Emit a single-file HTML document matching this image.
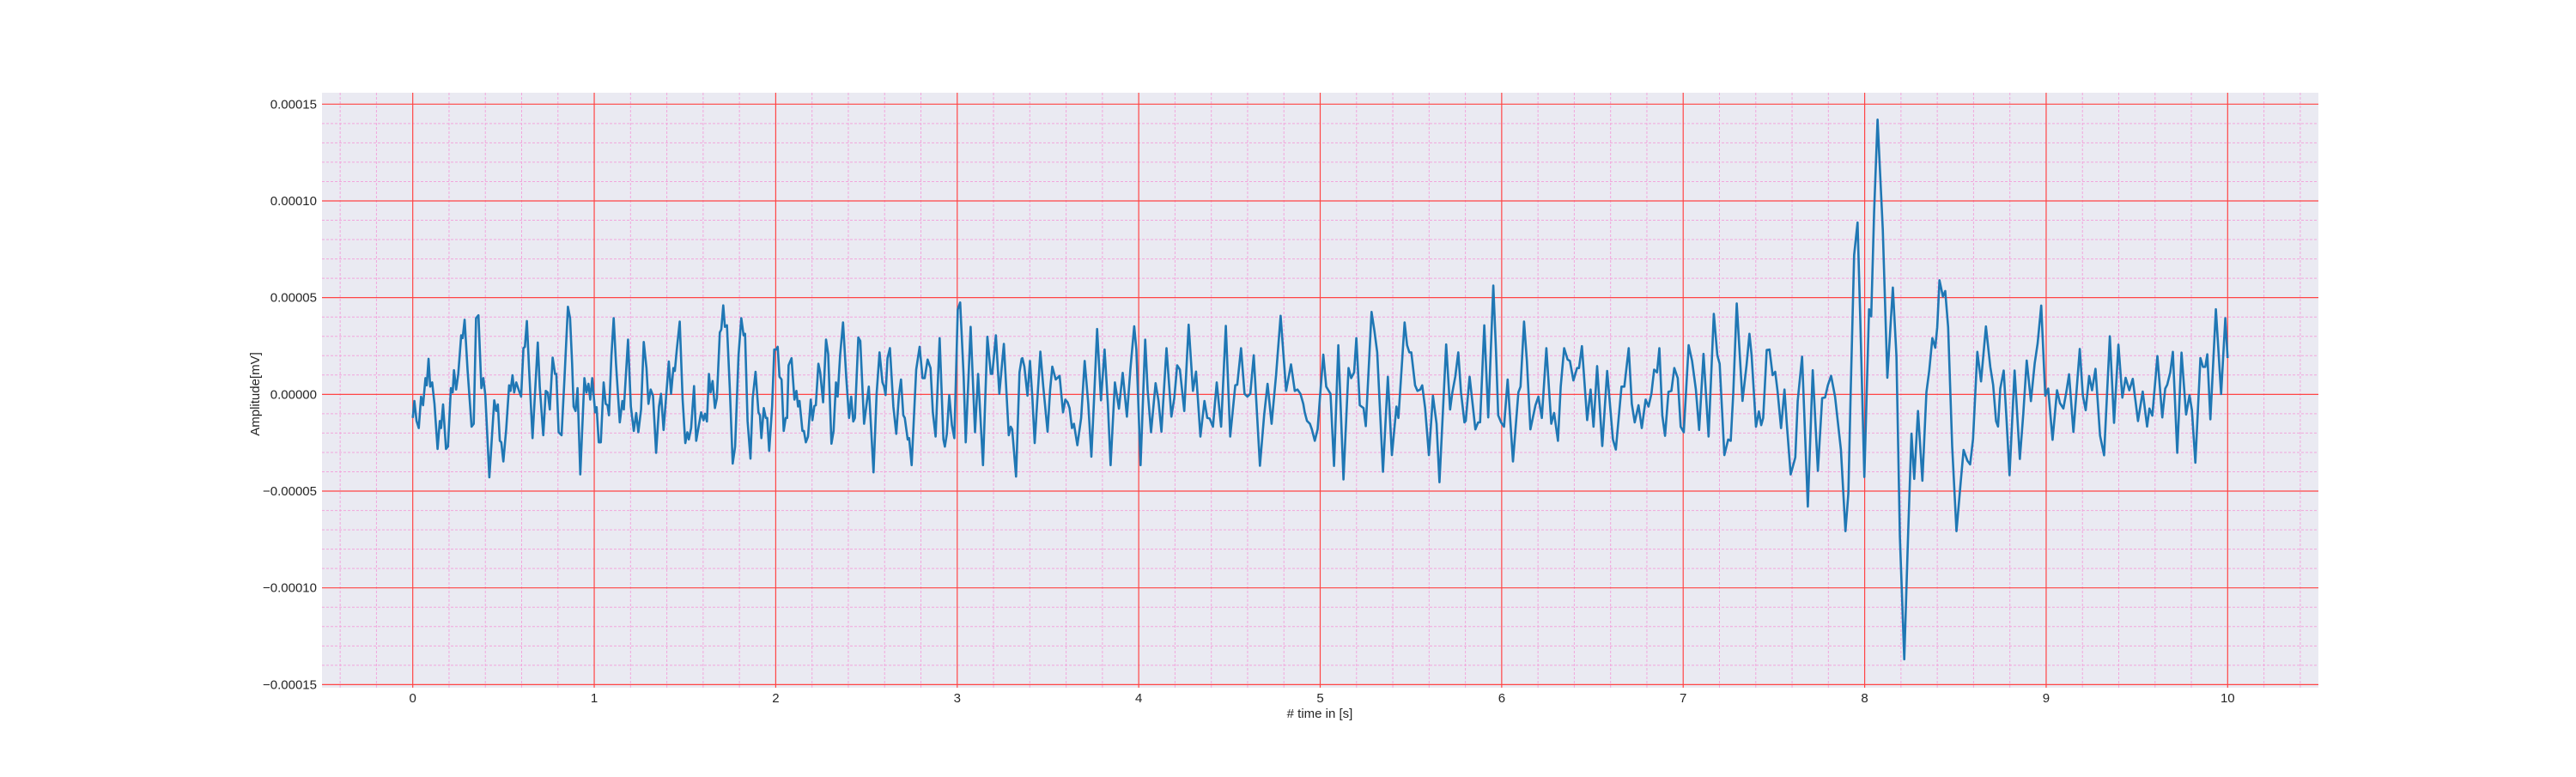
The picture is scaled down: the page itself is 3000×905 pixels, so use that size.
<!DOCTYPE html>
<html><head><meta charset="utf-8">
<style>
html,body{margin:0;padding:0;background:#fff;}
svg text{font-family:"Liberation Sans",sans-serif;fill:#262626;}
</style></head>
<body>
<svg id="chart" width="3000" height="900" viewBox="0 0 3000 900" xmlns="http://www.w3.org/2000/svg">
<rect x="375" y="108" width="2325" height="693" fill="#eaeaf2"/>
<g id="grid"></g>
<g id="series"></g>
<g id="ticks"></g>
<text x="1537" y="836" font-size="15" text-anchor="middle"># time in [s]</text>
<text x="0" y="0" font-size="15" text-anchor="middle" transform="translate(302,459) rotate(-90)">Amplitude[mV]</text>
</svg>
<script>
const xTicks = [0,1,2,3,4,5,6,7,8,9,10];
const xTickLabels = ["0","1","2","3","4","5","6","7","8","9","10"];
const yTicks = [-0.00015,-0.0001,-0.00005,0,0.00005,0.0001,0.00015];
const yTickLabels = ["\u22120.00015","\u22120.00010","\u22120.00005","0.00000","0.00005","0.00010","0.00015"];
// time in s
const times = [0,.009,.021,.033,.046,.057,.070,.077,.087,.096,.107,.120,.137,.149,.156,.167,.183,.194,.210,.220,.227,.239,.251,.267,.275,.286,.302,.324,.336,.349,.362,.378,.389,.400,.422,.449,.460,.469,.480,.488,.499,.515,.531,.539,.550,.559,.570,.586,.597,.610,.618,.629,.641,.660,.689,.700,.719,.733,.744,.755,.771,.784,.791,.804,.820,.836,.855,.867,.878,.886,.897,.908,.923,.946,.957,.968,.978,.989,1.005,1.013,1.025,1.036,1.052,1.063,1.073,1.081,1.095,1.107,1.120,1.141,1.155,1.163,1.186,1.202,1.218,1.231,1.243,1.258,1.273,1.288,1.299,1.311,1.324,1.341,1.357,1.368,1.382,1.411,1.423,1.436,1.444,1.455,1.471,1.487,1.502,1.513,1.521,1.534,1.550,1.562,1.581,1.589,1.602,1.610,1.621,1.632,1.641,1.652,
1.665,1.676,1.692,1.700,1.711,1.720,1.731,1.747,1.763,1.776,1.795,1.810,1.823,1.831,1.845,1.861,1.873,1.889,1.905,1.913,1.921,1.934,1.945,1.953,1.964,1.980,1.992,2.003,2.011,2.021,2.032,2.044,2.055,2.063,2.071,2.087,2.103,2.114,2.123,2.131,2.147,2.155,2.166,2.178,2.193,2.202,2.213,2.221,2.235,2.245,2.261,2.277,2.289,2.307,2.319,2.332,2.341,2.355,2.371,2.389,2.404,2.416,2.427,2.436,2.455,2.466,2.487,2.513,2.539,2.556,2.572,2.588,2.597,2.605,2.616,2.629,2.648,2.664,2.679,2.690,2.703,2.711,2.727,2.735,2.749,2.774,2.793,2.809,2.821,2.837,2.853,2.866,2.881,2.903,2.924,2.932,2.943,2.956,2.971,2.984,3.003,3.016,3.035,3.047,3.074,3.098,3.115,3.142,3.166,3.185,3.193,3.213,3.232,3.257,3.284,3.295,3.303,3.324,3.343,3.355,
3.359,3.370,3.387,3.401,3.414,3.427,3.442,3.458,3.474,3.498,3.512,3.524,3.543,3.564,3.583,3.596,3.608,3.619,3.632,3.643,3.662,3.683,3.702,3.722,3.739,3.754,3.771,3.792,3.812,3.830,3.845,3.869,3.891,3.912,3.935,3.954,3.975,3.987,4.010,4.036,4.049,4.068,4.093,4.109,4.125,4.153,4.180,4.196,4.212,4.227,4.251,4.275,4.299,4.316,4.340,4.362,4.378,4.391,4.409,4.430,4.454,4.480,4.504,4.532,4.543,4.564,4.583,4.599,4.615,4.634,4.668,4.691,4.710,4.732,4.757,4.782,4.812,4.839,4.860,4.875,4.891,4.907,4.915,4.927,4.943,4.954,4.970,4.986,4.997,
5.017,5.033,5.057,5.076,5.100,5.128,5.156,5.171,5.187,5.199,5.218,5.239,5.251,5.283,5.299,5.314,5.346,5.373,5.395,5.420,5.431,5.465,5.479,5.491,5.502,5.523,5.536,5.551,5.562,5.578,5.599,5.621,5.641,5.657,5.694,5.716,5.728,5.744,5.761,5.776,5.795,5.802,5.823,5.839,5.855,5.870,5.881,5.904,5.926,5.954,5.969,5.981,5.997,6.013,6.033,6.062,6.092,6.104,6.123,6.139,6.158,6.186,6.202,6.221,6.246,6.273,6.289,6.310,6.325,6.344,6.363,6.376,6.395,6.415,6.426,6.442,6.471,6.490,6.506,6.526,6.554,6.581,6.613,6.629,6.660,6.676,6.700,
6.717,6.733,6.754,6.772,6.793,6.809,6.825,6.840,6.856,6.869,6.885,6.900,6.919,6.935,6.951,6.970,6.986,7.003,7.030,7.049,7.070,7.088,7.112,7.140,7.169,7.188,7.201,7.227,7.248,7.262,7.276,7.295,7.327,7.349,7.365,7.377,7.401,7.417,7.430,7.441,7.460,7.476,7.493,7.507,7.520,7.539,7.558,7.571,7.592,7.618,7.631,7.655,7.687,7.714,7.742,7.766,7.782,7.797,7.815,7.837,7.869,
7.894,7.910,7.923,7.942,7.961,7.976,7.998,8.024,8.036,8.052,8.071,8.100,8.125,8.155,8.175,8.194,8.218,8.239,8.258,8.273,8.294,8.318,8.340,8.356,8.373,8.389,8.400,8.412,8.431,8.444,8.460,8.482,8.506,8.529,8.545,8.566,8.581,8.597,8.621,8.641,8.668,8.692,8.708,8.724,8.735,8.747,8.766,8.782,8.798,8.826,8.855,8.874,8.893,8.916,8.937,8.953,8.973,8.995,9.011,9.035,9.060,9.076,9.095,9.111,9.126,9.150,9.185,9.202,9.218,9.237,9.253,9.272,9.297,9.319,9.351,9.374,9.398,9.420,9.438,9.458,9.477,9.506,9.532,9.556,9.569,9.585,9.613,9.640,9.656,9.667,9.684,9.698,9.722,9.746,9.771,9.790,9.803,9.822,9.850,9.864,9.877,9.888,9.905,9.935,9.964,9.987,10.000];
// amplitude in units of 1e-5 mV
const amplitudeE5 = [-1.22,-0.34,-1.37,-1.74,-0.12,-0.56,0.84,0.47,1.84,0.40,0.62,-0.49,-2.82,-1.38,-1.74,-0.52,-2.82,-2.70,0.32,0.10,1.25,0.25,1.06,3.05,2.91,3.86,1.28,-1.67,-1.52,3.94,4.09,0.32,0.84,-0.04,-4.29,-0.31,-0.86,-0.52,-2.40,-2.48,-3.47,-1.81,0.47,0.18,0.99,0.10,0.62,0.18,-0.12,2.39,2.46,3.79,1.28,-2.26,2.68,0.40,-2.11,0.18,0.10,-0.78,1.90,1.06,1.06,-1.96,-2.11,0.84,4.53,3.94,1.58,-0.63,-0.86,0.32,-4.14,0.84,0.10,0.55,-0.27,0.84,-0.93,-0.66,-2.48,-2.48,0.62,-0.49,-0.56,-1.08,2.02,3.94,1.58,-1.45,-0.34,-0.78,2.83,-0.63,-1.89,-0.96,-1.96,-0.78,2.71,1.36,-0.49,0.25,-0.07,-3.02,-0.63,0.03,-1.84,1.70,0.03,1.36,1.21,2.32,3.76,-0.27,-2.52,-1.96,-2.33,-1.74,0.43,-2.40,-1.37,-0.93,-1.34,-1.00,-1.40,1.06,0.10,0.69,
-0.71,-0.19,3.20,3.35,4.60,3.49,3.57,0.32,-3.58,-2.70,2.02,3.94,3.05,3.13,-1.37,-3.32,-0.19,1.17,-0.93,-1.08,-2.26,-0.71,-1.22,-1.22,-2.92,-0.63,2.32,2.32,2.46,0.91,0.77,-1.89,-1.22,-1.22,1.50,1.87,-0.27,0.18,-0.63,-0.34,-1.89,-1.89,-2.48,-2.18,-0.27,-1.34,-0.60,-0.56,1.58,1.14,-0.41,2.83,2.09,-2.55,-1.89,0.62,-0.12,2.02,3.72,0.84,-1.22,-0.12,-1.40,-1.22,2.94,2.76,-1.52,0.40,-4.03,0.03,2.17,0.62,0.40,-0.04,1.87,2.39,-0.63,-2.04,-0.04,0.77,-1.08,-1.22,-2.33,-2.26,-3.66,1.28,2.46,0.84,0.84,1.80,1.36,-0.93,-2.18,2.91,-2.33,-2.70,-2.04,-0.04,-1.59,-2.26,4.38,4.75,0.99,-2.48,3.49,-1.96,1.06,-3.66,2.98,1.06,1.06,3.05,0.03,2.61,-2.11,-1.67,-1.81,-4.25,1.14,1.84,
1.87,1.43,-0.07,1.73,-0.19,-2.52,-0.19,2.21,0.40,-1.93,0.25,1.43,0.77,0.96,-0.93,-0.27,-0.41,-0.71,-1.74,-1.52,-2.63,-1.22,1.73,-0.49,-3.22,-0.27,3.38,-0.31,2.32,-0.49,-3.66,0.62,-0.74,1.11,-1.15,1.28,3.52,2.32,-3.66,2.83,0.25,-1.96,0.58,-0.34,-1.93,2.39,-1.15,-0.19,1.50,1.28,-0.86,3.60,0.18,1.18,-2.18,-0.34,-1.22,-1.25,-1.67,0.62,-1.67,3.54,-2.18,0.47,0.50,2.39,0.03,-0.12,0.03,2.02,-3.69,-1.08,0.55,-1.52,0.99,4.06,0.18,1.55,0.18,0.25,0.03,-0.49,-0.93,-1.37,-1.52,-1.81,-2.40,-1.81,-0.34,
2.05,0.40,0.03,-3.70,2.54,-4.40,1.36,0.84,1.14,2.91,-0.56,-0.71,-1.64,4.26,3.27,2.17,-4.00,0.91,-3.14,-0.63,-1.22,3.72,2.54,2.17,2.17,0.47,0.18,0.25,0.47,-0.71,-3.14,-0.07,-1.52,-4.54,2.58,-0.78,0.10,0.91,2.17,0.10,-1.45,-1.37,0.91,-0.41,-1.81,-1.45,-1.45,3.57,-1.19,5.63,2.17,-1.08,-1.45,-1.67,0.77,-3.47,0.10,0.40,3.76,1.73,-1.81,-0.56,-0.12,-1.22,2.39,-1.52,-0.96,-2.40,0.40,2.39,1.80,1.73,0.72,1.36,1.36,2.49,-1.33,0.25,-1.67,1.46,-2.67,1.21,-2.33,-2.85,0.40,0.40,2.39,
-0.49,-1.45,-0.56,-1.74,-0.27,-0.63,0.03,1.28,1.14,2.39,-1.08,-2.14,0.13,0.18,1.36,0.84,-1.67,-1.96,2.54,1.73,0.25,-1.84,2.09,-2.18,4.16,2.02,1.58,-3.14,-2.33,-2.40,0.10,4.70,-0.34,1.50,3.13,2.02,-1.67,-0.88,-1.59,-1.22,2.29,2.32,0.99,1.17,0.18,-1.74,0.25,-1.52,-4.14,-3.26,-0.34,1.95,-5.80,1.25,-3.95,-0.19,-0.16,0.47,0.96,-0.12,-2.85,
-7.07,-5.11,0.11,7.20,8.88,3.84,-4.27,4.40,4.03,9.44,14.20,8.51,0.86,5.52,1.98,-7.35,-13.69,-7.35,-2.03,-4.37,-0.86,-4.46,0.11,1.23,2.91,2.41,3.47,5.90,5.06,5.34,3.47,-2.69,-7.07,-4.55,-2.87,-3.43,-3.62,-2.31,2.20,0.67,3.51,1.42,0.49,-1.38,-1.66,0.30,1.23,-1.38,-4.18,1.23,-3.34,-1.01,1.75,-0.35,1.60,2.63,4.59,-0.07,0.30,-2.35,0.21,-0.45,-0.73,0.11,1.04,-1.94,2.35,-0.07,-0.82,0.95,0.21,1.32,-2.13,-3.15,3.00,-1.47,2.57,-0.17,0.86,0.21,0.80,-1.38,0.15,-1.66,-0.73,-1.10,1.98,-1.19,0.30,0.49,1.14,2.20,-3.02,2.16,-1.04,-0.04,-0.82,-3.53,1.88,1.42,1.42,2.07,-1.29,4.40,0.02,3.94,1.88];

const NS='http://www.w3.org/2000/svg';
const L=375,R=2700,T=108,B=801;
const xMin=-0.5,xMax=10.5,yMin=-0.0001516,yMax=0.0001559;
function xs(t){return L+(t-xMin)/(xMax-xMin)*(R-L);}
function ys(v){return B-(v-yMin)/(yMax-yMin)*(B-T);}
function mk(tag,attrs,parent){const e=document.createElementNS(NS,tag);for(const k in attrs)e.setAttribute(k,attrs[k]);parent.appendChild(e);return e;}
const grid=document.getElementById('grid');
for(let i=-2;i<=52;i++){const t=i*0.2;if(i%5===0)continue;
  const ln=mk('line',{x1:xs(t),x2:xs(t),y1:T,y2:B,stroke:'#f2a6dc','stroke-width':1,'stroke-dasharray':'3,2'},grid);
  
  }
for(let i=-15;i<=15;i++){if(i%5===0)continue;const v=i*1e-5;
  const ln=mk('line',{x1:L,x2:R,y1:ys(v),y2:ys(v),stroke:'#f2a6dc','stroke-width':1,'stroke-dasharray':'3,2'},grid);
  
  }
const ticks=document.getElementById('ticks');
xTicks.forEach((t,i)=>{
  const ln=mk('line',{x1:xs(t),x2:xs(t),y1:T,y2:B,stroke:'#ff4545','stroke-width':1.2},grid);
  
  
  const tx=mk('text',{x:xs(t),y:818,'font-size':15,'text-anchor':'middle'},ticks);
  tx.textContent=xTickLabels[i];
  
  
});
yTicks.forEach((v,i)=>{
  const ln=mk('line',{x1:L,x2:R,y1:ys(v),y2:ys(v),stroke:'#ff4545','stroke-width':1.2},grid);
  
  
  const tx=mk('text',{x:369,y:ys(v)+5,'font-size':15,'text-anchor':'end'},ticks);
  tx.textContent=yTickLabels[i];
  
  
});
const series=document.getElementById('series');
let d='';
for(let i=0;i<times.length;i++){d+=(i?'L':'M')+xs(times[i]).toFixed(1)+','+ys(amplitudeE5[i]*1e-5).toFixed(1);}
const p=mk('path',{d:d,fill:'none',stroke:'#1f77b4','stroke-width':2.6,'stroke-linejoin':'round'},series);


</script>
</body></html>
